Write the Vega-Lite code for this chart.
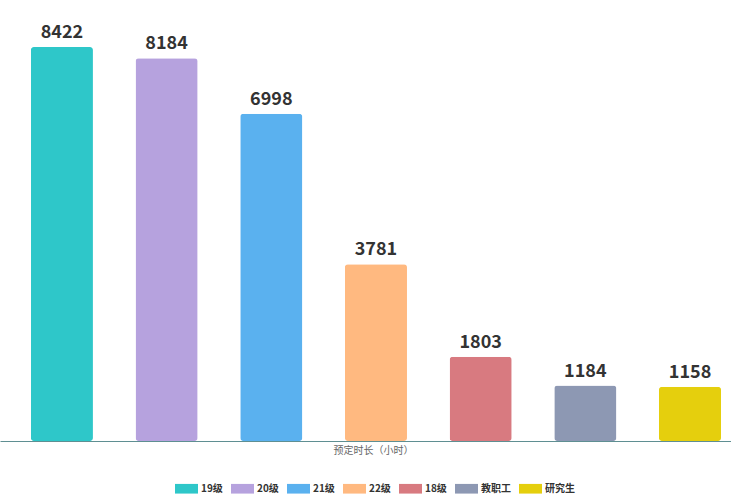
{
  "$schema": "https://vega.github.io/schema/vega-lite/v6.json",
  "width": 731,
  "height": 421,
  "autosize": {"type": "none"},
  "padding": {"top": 20, "left": 0, "right": 0, "bottom": 56},
  "background": "white",
  "config": {
    "view": {"stroke": null},
    "font": "Noto Sans CJK SC"
  },
  "data": {
    "values": [
      {"group": "19级", "value": 8422},
      {"group": "20级", "value": 8184},
      {"group": "21级", "value": 6998},
      {"group": "22级", "value": 3781},
      {"group": "18级", "value": 1803},
      {"group": "教职工", "value": 1184},
      {"group": "研究生", "value": 1158}
    ]
  },
  "encoding": {
    "x": {
      "field": "group",
      "type": "nominal",
      "sort": null,
      "scale": {"paddingInner": 0.407, "paddingOuter": 0.195, "align": 0.756},
      "axis": {
        "title": "预定时长（小时）",
        "titleFont": "Noto Sans CJK SC",
        "titleFontSize": 10,
        "titleFontWeight": "normal",
        "titleColor": "#666666",
        "titlePadding": 4,
        "titleX": 373,
        "labels": false,
        "ticks": false,
        "domainColor": "#5f8f92",
        "domainWidth": 1
      }
    },
    "y": {
      "field": "value",
      "type": "quantitative",
      "scale": {"domain": [0, 9000], "nice": false},
      "axis": null
    }
  },
  "layer": [
    {
      "mark": {"type": "bar", "cornerRadius": 3},
      "encoding": {
        "color": {
          "field": "group",
          "type": "nominal",
          "scale": {
            "domain": ["19级", "20级", "21级", "22级", "18级", "教职工", "研究生"],
            "range": ["#2ec7c9", "#b6a2de", "#5ab1ef", "#ffb980", "#d87a80", "#8d98b3", "#e5cf0d"]
          },
          "legend": {
            "title": null,
            "orient": "none",
            "legendX": 175,
            "legendY": 457,
            "direction": "horizontal",
            "symbolType": "M-1,-0.42 L1,-0.42 L1,0.42 L-1,0.42 Z",
            "symbolSize": 529,
            "symbolStrokeWidth": 0,
            "labelFont": "Noto Sans CJK SC",
            "labelFontSize": 10,
            "labelFontWeight": "bold",
            "labelColor": "#333333",
            "labelOffset": 3,
            "columnPadding": 8
          }
        }
      }
    },
    {
      "mark": {
        "type": "text",
        "baseline": "bottom",
        "dy": -5,
        "fontSize": 18,
        "fontWeight": "bold",
        "color": "#333333",
        "font": "Noto Sans CJK SC"
      },
      "encoding": {
        "text": {"field": "value", "type": "quantitative", "format": "d"}
      }
    }
  ]
}
